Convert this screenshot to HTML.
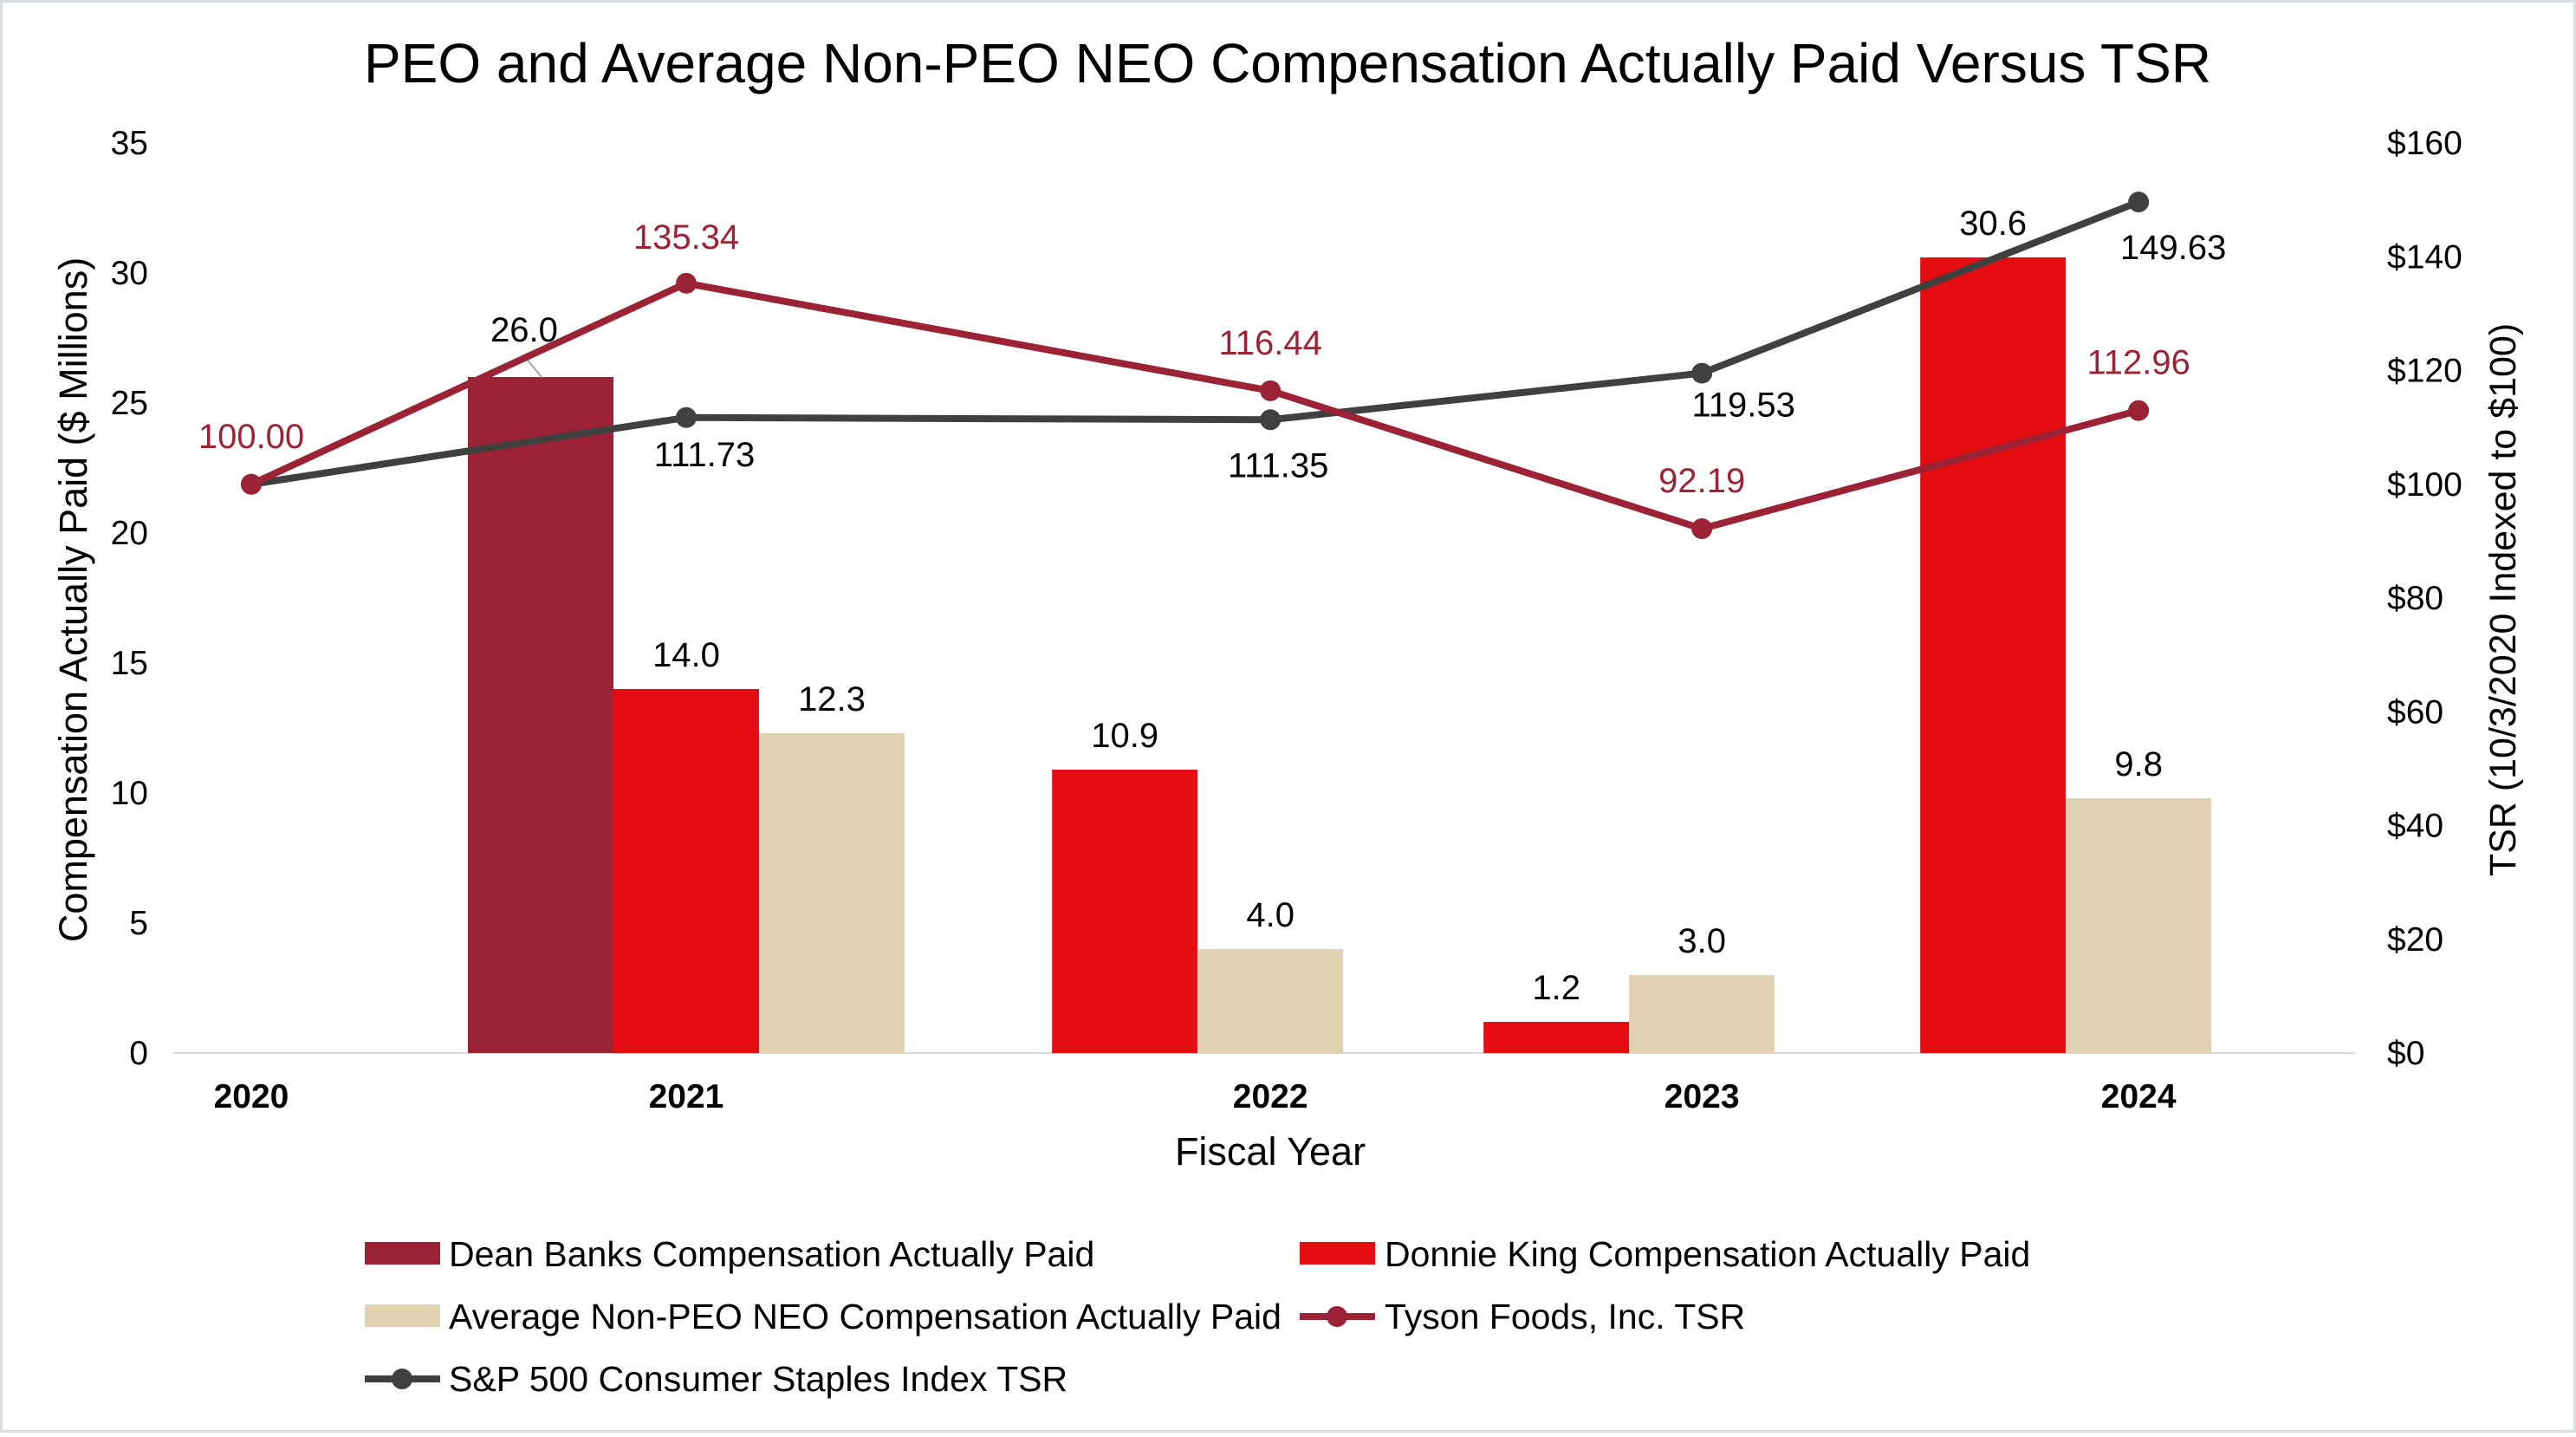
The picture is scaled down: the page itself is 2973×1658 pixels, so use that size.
<!DOCTYPE html>
<html><head><meta charset="utf-8">
<style>
html,body{margin:0;padding:0;background:#fff;}
body{width:2973px;height:1653px;overflow:hidden;font-family:"Liberation Sans",Arial,sans-serif;}
svg text{font-family:"Liberation Sans",Arial,sans-serif;}
</style></head>
<body>
<svg id="chart" width="2973" height="1653" viewBox="0 0 2973 1653" xmlns="http://www.w3.org/2000/svg">
<rect x="1.5" y="1.5" width="2970" height="1650" fill="#fff" stroke="#d9dee3" stroke-width="3"/>
<text x="1486" y="95" font-size="64" text-anchor="middle" fill="#000">PEO and Average Non-PEO NEO Compensation Actually Paid Versus TSR</text>
<g id="marks"></g>
<text transform="translate(100,692) rotate(-90)" font-size="45" text-anchor="middle" fill="#000">Compensation Actually Paid ($ Millions)</text>
<text transform="translate(2903,692) rotate(-90)" font-size="43" text-anchor="middle" fill="#000">TSR (10/3/2020 Indexed to $100)</text>
<text x="1466" y="1344" font-size="45" text-anchor="middle" fill="#000">Fiscal Year</text>
<g font-size="41" fill="#000">
  <g><rect x="421" y="1433" width="87" height="26" fill="#9b2335"/><text x="518" y="1461">Dean Banks Compensation Actually Paid</text></g>
  <g><rect x="1500" y="1433" width="87" height="26" fill="#e30d12"/><text x="1598" y="1461">Donnie King Compensation Actually Paid</text></g>
  <g><rect x="421" y="1505" width="87" height="26" fill="#e0d2b0"/><text x="518" y="1533">Average Non-PEO NEO Compensation Actually Paid</text></g>
  <g><line x1="1500" y1="1519" x2="1587" y2="1519" stroke="#9b2335" stroke-width="8"/><circle cx="1543" cy="1519" r="12" fill="#9b2335"/><text x="1598" y="1533">Tyson Foods, Inc. TSR</text></g>
  <g><line x1="421" y1="1591" x2="508" y2="1591" stroke="#404040" stroke-width="8"/><circle cx="464" cy="1591" r="12" fill="#404040"/><text x="518" y="1605">S&amp;P 500 Consumer Staples Index TSR</text></g>
</g>
</svg>
<script>
const categories = ['2020','2021','2022','2023','2024'];
const deanBanks = [null, 26.0, null, null, null];
const donnieKing = [null, 14.0, 10.9, 1.2, 30.6];
const avgNonPeo = [null, 12.3, 4.0, 3.0, 9.8];
const tysonTsr = [100.00, 135.34, 116.44, 92.19, 112.96];
const spTsr = [100.00, 111.73, 111.35, 119.53, 149.63];
const leftTicks = [0, 5, 10, 15, 20, 25, 30, 35];
const rightTicks = [0, 20, 40, 60, 80, 100, 120, 140, 160];

// layout (not data)
const catUnits = [0, 1, 2.343, 3.335, 4.339];
const X0 = 290, UNIT = 502, BW = 168;
const TOP = 165, BOT = 1215;
const yL = v => BOT - v / 35 * (BOT - TOP);
const yR = v => BOT - v / 160 * (BOT - TOP);
const xC = i => X0 + catUnits[i] * UNIT;
const NS = 'http://www.w3.org/2000/svg';
const g = document.getElementById('marks');
function mk(tag, attrs, text) {
  const e = document.createElementNS(NS, tag);
  for (const k in attrs) e.setAttribute(k, attrs[k]);
  if (text !== undefined) e.textContent = text;
  g.appendChild(e);
  return e;
}
let e = mk('line', {x1: 200, y1: BOT, x2: 2718, y2: BOT, stroke: '#d9d9d9', 'stroke-width': 2});


leftTicks.forEach(t => {
  const el = mk('text', {x: 171, y: yL(t) + 13, 'font-size': 39, 'text-anchor': 'end'}, String(t));
  
  
});
rightTicks.forEach(t => {
  const el = mk('text', {x: 2755, y: yR(t) + 13, 'font-size': 39}, '$' + t);
  
  
});
categories.forEach((c, i) => {
  const el = mk('text', {x: xC(i), y: 1278, 'font-size': 39, 'font-weight': 'bold', 'text-anchor': 'middle'}, c);
  
  
});
const series = [
  {vals: deanBanks, color: '#9b2335', name: 'dean-banks'},
  {vals: donnieKing, color: '#e30d12', name: 'donnie-king'},
  {vals: avgNonPeo, color: '#e0d2b0', name: 'avg-non-peo'}
];
categories.forEach((c, i) => {
  const present = series.filter(s => s.vals[i] != null);
  const start = xC(i) - 1.5 * BW;
  present.forEach((s, k) => {
    const v = s.vals[i];
    const x = start + k * BW;
    const r = mk('rect', {x: x, y: yL(v), width: BW, height: BOT - yL(v), fill: s.color});
    
    
    let lx = x + BW / 2, ly = yL(v) - 26;
    if (s.name === 'dean-banks') {
      lx = x + 65; ly = yL(v) - 41;
      const ll = mk('line', {x1: x + 66, y1: yL(v) - 23, x2: x + 85, y2: yL(v), stroke: '#a6a6a6', 'stroke-width': 2});
      
      
    }
    const t = mk('text', {x: lx, y: ly, 'font-size': 40, 'text-anchor': 'middle'}, v.toFixed(1));
    
    
  });
});
function drawLine(vals, color, name, labelOff) {
  const pts = vals.map((v, i) => xC(i) + ',' + yR(v)).join(' ');
  const p = mk('polyline', {points: pts, fill: 'none', stroke: color, 'stroke-width': 8, 'stroke-linejoin': 'round'});
  
  
  vals.forEach((v, i) => {
    const c = mk('circle', {cx: xC(i), cy: yR(v), r: 12, fill: color});
    
    
    if (labelOff[i]) {
      const t = mk('text', {x: xC(i) + labelOff[i][0], y: yR(v) + labelOff[i][1], 'font-size': 40, 'text-anchor': 'middle', fill: color === '#404040' ? '#000' : color}, v.toFixed(2));
      
      
    }
  });
}
drawLine(spTsr, '#404040', 'sp500-tsr', [null, [21, 56], [9, 66], [48, 50], [40, 66]]);
drawLine(tysonTsr, '#9b2335', 'tyson-tsr', [[0, -42], [0, -40], [0, -42], [0, -42], [0, -42]]);
</script>
</body></html>
